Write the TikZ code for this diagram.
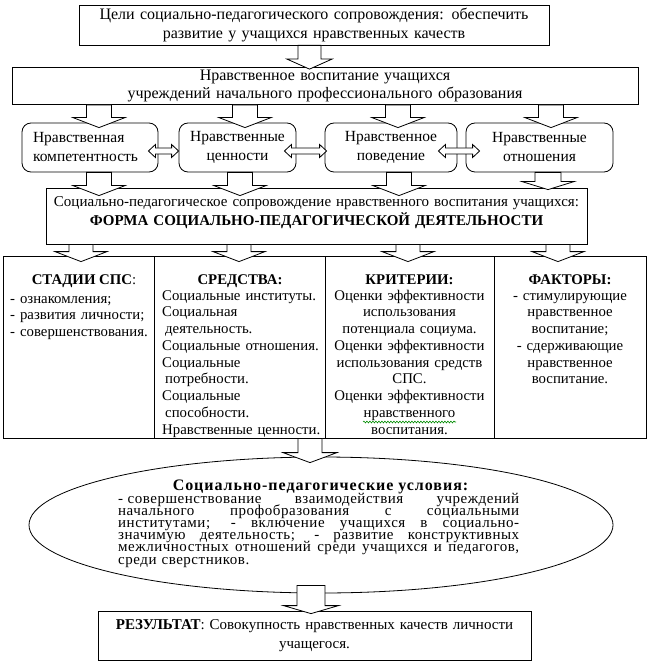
\documentclass[tikz,border=0pt]{standalone}
\usepackage{fontspec}
\setmainfont{Liberation Serif}
\usetikzlibrary{calc,shapes.geometric,decorations.pathmorphing}
% vertical block arrow: #1 x, #2 start coord, #3 target coord, #4 overshoot, #5 half shaft, #6 half head, #7 head length
\newcommand\vbarrow[7]{%
  \draw[barrow] let \p1=#2, \p2=#3 in
   ({#1pt-#5pt},\y1) -- ({#1pt-#5pt},{\y2-#4pt+#7pt}) -- ({#1pt-#6pt},{\y2-#4pt+#7pt})
   -- ({#1pt},{\y2-#4pt}) -- ({#1pt+#6pt},{\y2-#4pt+#7pt}) -- ({#1pt+#5pt},{\y2-#4pt+#7pt})
   -- ({#1pt+#5pt},\y1) -- cycle;}
% horizontal double block arrow: #1 from node, #2 to node, #3 y, #4 start inset, #5 end inset
\newcommand\hdarrow[5]{%
  \draw[barrow] let \p1=(#1.east), \p2=(#2.west) in
   ({\x1-#4pt},{-#3pt}) -- ({\x1-#4pt+7pt},{-#3pt+6.5pt}) -- ({\x1-#4pt+7pt},{-#3pt+3pt})
   -- ({\x2+#5pt-7pt},{-#3pt+3pt}) -- ({\x2+#5pt-7pt},{-#3pt+6.5pt}) -- ({\x2+#5pt},{-#3pt})
   -- ({\x2+#5pt-7pt},{-#3pt-6.5pt}) -- ({\x2+#5pt-7pt},{-#3pt-3pt}) -- ({\x1-#4pt+7pt},{-#3pt-3pt})
   -- ({\x1-#4pt+7pt},{-#3pt-6.5pt}) -- cycle;}
\newcommand\jline[1]{\leavevmode\hbox to 401pt{\spaceskip=0.25em plus 1fil\relax #1}}
\begin{document}
\begin{tikzpicture}[x=1pt,y=-1pt,
  box/.style={draw,line width=0.8pt,fill=white,inner sep=0pt,align=center},
  rbox/.style={box,rounded corners=9pt},
  barrow/.style={draw,line width=0.8pt,fill=white,line join=miter},
  txt/.style={inner sep=0pt},
  rfont/.style={font=\fontsize{15.5}{19}\selectfont},
  tabfont/.style={font=\fontsize{14.8}{16.75}\selectfont}]
\useasboundingbox (0,0) rectangle (660,668);
\fill[white] (0,0) rectangle (660,668);

\node[box,font=\fontsize{16}{19.5}\selectfont,minimum width=470,minimum height=40,text width=462] (goal) at (314,25)
  {Цели социально-педагогического сопровождения: обеспечить\\развитие у учащихся нравственных качеств};
\node[box,font=\fontsize{16}{17.5}\selectfont,minimum width=626,minimum height=37,text width=610] (moral) at (325,86)
  {Нравственное воспитание учащихся\\учреждений начального профессионального образования};

\node[rbox,rfont,minimum width=136,minimum height=49,text width=114,align=left] (r1) at (90,147.5)
  {Нравственная\\компетентность};
\node[rbox,rfont,minimum width=117,minimum height=49,text width=112] (r2) at (237.5,147.5)
  {Нравственные\\ценности};
\node[rbox,rfont,minimum width=132,minimum height=49,text width=125] (r3) at (391,147.5)
  {Нравственное\\поведение};
\node[rbox,rfont,minimum width=147,minimum height=49,text width=140] (r4) at (539.5,147.5)
  {Нравственные\\отношения};

\node[box,minimum width=541,minimum height=56] (form) at (316.5,216) {};
\node[txt,anchor=base,text width=535,align=center,font=\fontsize{15}{18}\selectfont] (formtxt) at (316.5,207)
  {Социально-педагогическое сопровождение нравственного воспитания учащихся:\\
   \textbf{ФОРМА СОЦИАЛЬНО-ПЕДАГОГИЧЕСКОЙ ДЕЯТЕЛЬНОСТИ}};

% table columns
\node[box,minimum width=151,minimum height=182] (c1) at (78.5,347) {};
\node[box,minimum width=171,minimum height=182] (c2) at (239.5,347) {};
\node[box,minimum width=169,minimum height=182] (c3) at (409.5,347) {};
\node[box,minimum width=152,minimum height=182] (c4) at (570,347) {};

\node[txt,anchor=base,tabfont] (t1) at (84,284) {\textbf{СТАДИИ СПС}:};
\node[txt,anchor=base west,tabfont,text width=145,align=left] (b1) at (10,303)
  {- ознакомления;\\- развития личности;\\- совершенствования.};
\node[txt,anchor=base,tabfont] (t2) at (240,284) {\textbf{СРЕДСТВА:}};
\node[txt,anchor=base west,tabfont,text width=175,align=left] (b2) at (162,300)
  {Социальные институты.\\Социальная\\\hspace*{3pt}деятельность.\\Социальные отношения.\\Социальные\\\hspace*{3pt}потребности.\\Социальные\\\hspace*{3pt}способности.\\Нравственные ценности.};
\node[txt,anchor=base,tabfont] (t3) at (409.5,284) {\textbf{КРИТЕРИИ:}};
\node[txt,anchor=base,tabfont,text width=168,align=center] (b3) at (409.5,300)
  {Оценки эффективности\\использования\\потенциала социума.\\Оценки эффективности\\использования средств\\СПС.\\Оценки эффективности\\нравственного\\воспитания.};
\node[txt,anchor=base,tabfont] (t4) at (570,284) {\textbf{ФАКТОРЫ:}};
\node[txt,anchor=base,tabfont,text width=150,align=center] (b4) at (570,300)
  {- стимулирующие\\нравственное\\воспитание;\\- сдерживающие\\нравственное\\воспитание.};
\draw[green!55!black,line width=0.6pt,decorate,decoration={snake,amplitude=0.9pt,segment length=3pt}] (363,422) -- (456,422);

% ellipse
\node[ellipse,draw,line width=0.8pt,fill=white,inner sep=0pt,minimum width=584,minimum height=136] (ell) at (321,525) {};
\node[txt,anchor=base,font=\fontsize{16}{18}\selectfont\bfseries\addfontfeatures{LetterSpace=6}] (etitle) at (320.5,490) {Социально-педагогические условия:};
\node[txt,anchor=base west,text width=401,align=left,font=\fontsize{15}{12.2}\selectfont\addfontfeatures{LetterSpace=3.5}] (ebody) at (118,503)
  {\setlength\lineskiplimit{-20pt}\jline{-\hspace{0.3em}совершенствование взаимодействия учреждений}\\
   \jline{начального профобразования с социальными}\\
   \jline{институтами; - включение учащихся в социально-}\\
   \jline{значимую деятельность; - развитие конструктивных}\\
   \jline{межличностных отношений среди учащихся и педагогов,}\\
   среди сверстников.};

% result
\node[box,font=\fontsize{15}{19}\selectfont,minimum width=433,minimum height=49,text width=425] (res) at (314.5,635.5)
  {\textbf{РЕЗУЛЬТАТ}: Совокупность нравственных качеств личности\\учащегося.};

% arrows
\vbarrow{309.5}{(goal.south)}{(moral.north)}{2}{11.5}{22.5}{10}
\vbarrow{99}{(moral.south)}{(r1.north)}{5}{12.5}{26}{10}
\vbarrow{245}{(moral.south)}{(r2.north)}{5}{12.5}{26}{10}
\vbarrow{398}{(moral.south)}{(r3.north)}{5}{12.5}{26}{10}
\vbarrow{551}{(moral.south)}{(r4.north)}{5}{12.5}{26}{10}
\vbarrow{99}{(r1.south)}{(form.north)}{8}{12.5}{26}{10}
\vbarrow{240}{(r2.south)}{(form.north)}{8}{12.5}{26}{10}
\vbarrow{399}{(r3.south)}{(form.north)}{8}{12.5}{26}{10}
\vbarrow{548}{(r4.south)}{(form.north)}{2}{13}{26}{8}
\vbarrow{81}{(form.south)}{(c1.north)}{6}{12}{26}{10}
\vbarrow{239}{(form.south)}{(c2.north)}{6}{12}{26}{10}
\vbarrow{408}{(form.south)}{(c3.north)}{6}{12}{26}{10}
\vbarrow{558}{(form.south)}{(c4.north)}{6}{12}{26}{10}
\vbarrow{310}{(c2.south)}{(ell.north)}{6}{12}{27}{10}
\vbarrow{311}{($(ell.south)+(0,-8)$)}{(res.north)}{3}{14}{27.5}{8}
\hdarrow{r1}{r2}{151}{10}{0}
\hdarrow{r2}{r3}{151}{12}{2}
\hdarrow{r3}{r4}{151}{19}{14}
\end{tikzpicture}
\end{document}
